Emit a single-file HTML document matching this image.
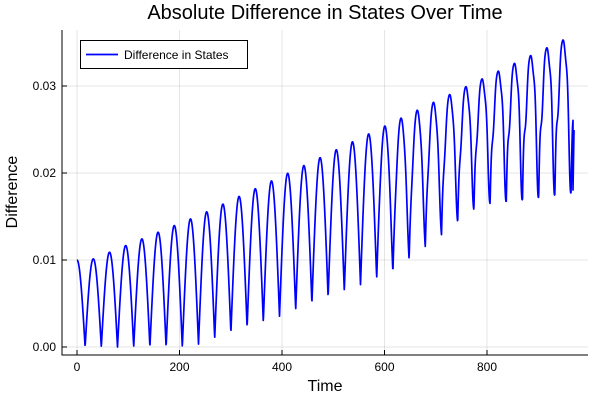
<!DOCTYPE html>
<html><head><meta charset="utf-8"><style>
body{margin:0;background:#fff}
svg{font-family:"Liberation Sans",sans-serif}
</style></head><body>
<svg id="s" width="600" height="400" viewBox="0 0 600 400">
<rect width="600" height="400" fill="#fff"/>
<g stroke="#000" stroke-opacity="0.1" stroke-width="1">
<line x1="77" y1="30" x2="77" y2="355"/><line x1="179.5" y1="30" x2="179.5" y2="355"/>
<line x1="282" y1="30" x2="282" y2="355"/><line x1="384.5" y1="30" x2="384.5" y2="355"/>
<line x1="487" y1="30" x2="487" y2="355"/>
<line x1="62" y1="347" x2="588" y2="347"/><line x1="62" y1="260" x2="588" y2="260"/>
<line x1="62" y1="173" x2="588" y2="173"/><line x1="62" y1="86" x2="588" y2="86"/>
</g>
<g stroke="#000" stroke-width="1">
<line x1="62" y1="30" x2="62" y2="355.5"/><line x1="61.5" y1="355" x2="588" y2="355"/>
<line x1="77" y1="355" x2="77" y2="350"/><line x1="179.5" y1="355" x2="179.5" y2="350"/>
<line x1="282" y1="355" x2="282" y2="350"/><line x1="384.5" y1="355" x2="384.5" y2="350"/>
<line x1="487" y1="355" x2="487" y2="350"/>
<line x1="62" y1="347" x2="67" y2="347"/><line x1="62" y1="260" x2="67" y2="260"/>
<line x1="62" y1="173" x2="67" y2="173"/><line x1="62" y1="86" x2="67" y2="86"/>
</g>
<g font-size="12" fill="#000" text-anchor="middle">
<text x="77" y="371">0</text><text x="179.5" y="371">200</text><text x="282" y="371">400</text>
<text x="384.5" y="371">600</text><text x="487" y="371">800</text>
</g>
<g font-size="12" fill="#000" text-anchor="end">
<text x="56" y="351">0.00</text><text x="56" y="264">0.01</text>
<text x="56" y="177">0.02</text><text x="56" y="90">0.03</text>
</g>
<text x="325" y="19" font-size="20" text-anchor="middle">Absolute Difference in States Over Time</text>
<text x="325" y="391" font-size="16" text-anchor="middle">Time</text>
<text x="17" y="192" font-size="16" text-anchor="middle" transform="rotate(-90 17 192)">Difference</text>
<path id="p" fill="none" stroke="#0000ff" stroke-width="1.7" stroke-linejoin="round"/>
<rect x="80.5" y="40.5" width="167" height="28" fill="#fff" stroke="#000" stroke-width="1"/>
<line x1="86" y1="54.5" x2="118" y2="54.5" stroke="#0000ff" stroke-width="1.7"/>
<text x="124" y="59" font-size="12">Difference in States</text>
</svg>
<script>
function interp(pts,x){for(let i=0;i<pts.length-1;i++){const a=pts[i],b=pts[i+1];if(x<=b[0]){const t=(x-a[0])/(b[0]-a[0]);return a[1]+t*(b[1]-a[1]);}}return pts[pts.length-1][1];}
const P=[[77,260],[93,259],[200,215],[303,166],[430,104],[563,40],[580,35]];
const Q=[[77,347],[190,347],[280,316],[393,272],[480,205],[570,192],[580,192]];
const per=16.2;let d="";
for(let x=77;x<=573;x+=0.25){
 const ph=Math.PI*(x-77)/per;
 let u=Math.abs(Math.cos(ph));
 const p=interp(P,x),q=interp(Q,x);
 let y=q-(q-p)*u;
 if(x>370){const r=Math.min(1,(x-370)/150);y+=r*(q-p)*0.2*Math.sin(6*ph)*(1-u);}
 d+=(d?"L":"M")+x.toFixed(2)+","+y.toFixed(2);
}
d+="L573,190L574,130";
document.getElementById("p").setAttribute("d",d);
</script>
</body></html>
